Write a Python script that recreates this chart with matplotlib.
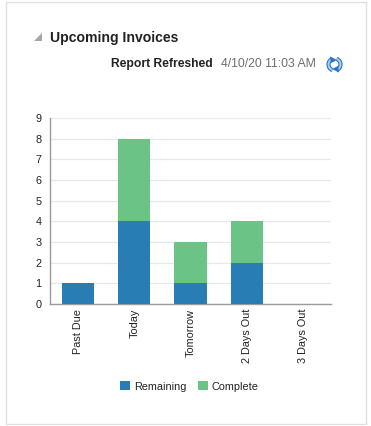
import numpy as np
import matplotlib
matplotlib.use('Agg')
import matplotlib.pyplot as plt
from matplotlib.patches import Rectangle, Polygon, Arc

plt.rcParams['font.family'] = ['Liberation Sans', 'DejaVu Sans']

W, H = 371, 426

categories = ['Past Due', 'Today', 'Tomorrow', '2 Days Out', '3 Days Out']
remaining = [1, 4, 1, 2, 0]
complete = [0, 4, 2, 2, 0]
y_ticks = [0, 1, 2, 3, 4, 5, 6, 7, 8, 9]

blue = '#287DB5'
green = '#6CC386'

fig = plt.figure(figsize=(W/100, H/100), dpi=100)

# page layer in pixel coords
bg = fig.add_axes([0, 0, 1, 1])
bg.set_xlim(0, W)
bg.set_ylim(H, 0)
bg.axis('off')
bg.add_patch(Rectangle((5.5, 1.5), 360, 422, fc='white', ec='#DDE1E5', lw=1))
bg.add_patch(Polygon([[34, 41], [42, 41], [42, 33]], fc='#A6A6A6', ec='none'))
bg.text(50, 38, 'Upcoming Invoices', fontsize=10.05, fontweight='bold', color='#222222', va='center', ha='left')
bg.text(213, 64, 'Report Refreshed', fontsize=8.7, fontweight='bold', color='#222222', va='center', ha='right')
bg.text(315.5, 64, '4/10/20 11:03 AM', fontsize=8.8, color='#6F6F6F', va='center', ha='right')

# refresh icon
for lw, col in [(3.0, '#2A74C4'), (1.4, '#A9D0F0')]:
    bg.add_patch(Arc((334.5, 64.5), 12, 12, theta1=110, theta2=250, lw=lw, color=col))
    bg.add_patch(Arc((334.5, 64.5), 12, 12, theta1=290, theta2=70, lw=lw, color=col))
bg.add_patch(Polygon([[330, 56.5], [337, 60], [331, 63]], fc='#2A74C4', ec='none'))
bg.add_patch(Polygon([[339, 72.5], [332, 69], [338, 66]], fc='#2A74C4', ec='none'))

# chart
ax = fig.add_axes([50/W, 1 - 304/H, 281/W, 186/H])
x = np.arange(len(categories))
ax.bar(x, remaining, width=0.57, color=blue, label='Remaining', zorder=3)
ax.bar(x, complete, width=0.57, bottom=remaining, color=green, label='Complete', zorder=3)
ax.set_xlim(-0.5, 4.5)
ax.set_ylim(0, 9)
ax.set_yticks(y_ticks)
ax.set_xticks(x)
ax.set_xticklabels(categories, rotation=90)
ax.tick_params(axis='both', length=0, labelsize=7.8, labelcolor='#222222')
ax.tick_params(axis='x', pad=3.5)
ax.tick_params(axis='y', pad=6)
ax.grid(axis='y', color='#E6E8EA', lw=0.9, zorder=0)
for s in ['top', 'right']:
    ax.spines[s].set_visible(False)
for s in ['left', 'bottom']:
    ax.spines[s].set_color('#9A9A9A')
    ax.spines[s].set_linewidth(1)

leg = ax.legend(loc='center', bbox_to_anchor=(189.5/W, 1 - 386.5/H), bbox_transform=fig.transFigure, ncol=2, frameon=False,
                fontsize=7.8, handlelength=0.92, handleheight=0.92, handletextpad=0.4, columnspacing=1.0,
                borderpad=0, borderaxespad=0)
for t in leg.get_texts():
    t.set_color('#222222')

fig.savefig('out.png', dpi=100)
